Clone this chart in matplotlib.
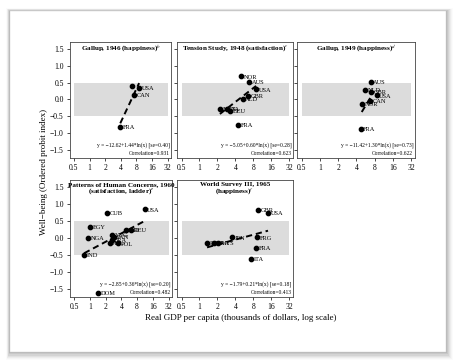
import numpy as np
import matplotlib
matplotlib.use("Agg")
import matplotlib.pyplot as plt
from matplotlib.patches import Rectangle

plt.rcParams['font.family'] = ['Liberation Serif', 'DejaVu Serif']
plt.rcParams['mathtext.fontset'] = 'stix'

# ---------------- data ----------------
p1_countries = ["", "USA", "CAN", "FRA"]
p1_gdp = [6.7, 9.0, 7.2, 3.9]
p1_wb = [0.39, 0.34, 0.14, -0.83]
p1_coef = [-12.62, 1.44]
p1_line = [3.9, 9.0]

p2_countries = ["NOR", "AUS", "USA", "GBR", "NLD", "MEX", "ITA", "DEU", "FRA"]
p2_gdp = [5.0, 6.8, 8.9, 6.6, 5.3, 2.24, 2.92, 3.23, 4.4]
p2_wb = [0.69, 0.53, 0.30, 0.11, 0.02, -0.27, -0.29, -0.35, -0.76]
p2_coef = [-5.05, 0.60]
p2_line = [2.2, 8.9]

p3_countries = ["AUS", "NLD", "GBR", "USA", "CAN", "NOR", "FRA"]
p3_gdp = [6.9, 5.6, 7.0, 8.6, 6.7, 5.0, 4.7]
p3_wb = [0.52, 0.28, 0.22, 0.12, -0.05, -0.12, -0.87]
p3_coef = [-11.42, 1.30]
p3_line = [4.9, 7.1]

p4_countries = ["USA", "CUB", "EGY", "NGA", "IND", "DOM", "ISR", "DEU",
                "YUG", "PAN", "BRA", "PHL", "POL"]
p4_gdp = [11.2, 2.12, 1.03, 0.92, 0.78, 1.45, 5.0, 6.2,
          2.67, 2.9, 2.6, 2.4, 3.5]
p4_wb = [0.85, 0.74, 0.33, 0.0, -0.49, -1.64, 0.24, 0.24,
         0.09, 0.03, -0.05, -0.14, -0.16]
p4_coef = [-2.85, 0.36]
p4_line = [0.78, 11.2]

p5_countries = ["GBR", "USA", "FRG", "FRA", "ITA", "JPN", "PHL", "BRA", "MYS"]
p5_gdp = [9.6, 14.1, 9.3, 9.0, 7.3, 3.56, 1.34, 1.76, 2.05]
p5_wb = [0.83, 0.75, 0.02, -0.29, -0.63, 0.02, -0.14, -0.14, -0.14]
p5_coef = [-1.79, 0.21]
p5_line = [1.34, 14.1]

titles = ["Gallup, 1946 (happiness)$^{b}$",
          "Tension Study, 1948 (satisfaction)$^{c}$",
          "Gallup, 1949 (happiness)$^{d}$",
          "Patterns of Human Concerns, 1960\n(satisfaction, ladder)$^{e}$",
          "World Survey III, 1965\n(happiness)$^{f}$"]
eq_texts = ["y = \u221212.62+1.44*ln(x) [se=0.40]",
            "y = \u22125.05+0.60*ln(x) [se=0.28]",
            "y = \u221211.42+1.30*ln(x) [se=0.73]",
            "y = \u22122.85+0.36*ln(x) [se=0.20]",
            "y = \u22121.79+0.21*ln(x) [se=0.18]"]
corr_texts = ["Correlation=0.931", "Correlation=0.623", "Correlation=0.622",
              "Correlation=0.482", "Correlation=0.413"]
xticks = [0.5, 1, 2, 4, 8, 16, 32]
xticklabels = ["0.5", "1", "2", "4", "8", "16", "32"]
yticks = [-1.5, -1.0, -0.5, 0.0, 0.5, 1.0, 1.5]
yticklabels = ["\u22121.5", "\u22121.0", "\u22120.5", "0.0", "0.5", "1.0", "1.5"]

W, H = 456, 362
fig = plt.figure(figsize=(W / 100, H / 100), dpi=100)
fig.patch.set_facecolor("white")

# page card with soft shadow (offset to bottom-right)
for i, a in enumerate(np.linspace(0.07, 0.015, 7)):
    d = i + 1
    fig.patches.append(Rectangle(((10 - d * 0.5) / W, (H - 352 - d * 1.2) / H),
                                 (436 + d * 1.5) / W, (341 + d * 1.6) / H,
                                 transform=fig.transFigure, facecolor="black",
                                 alpha=a, edgecolor="none", zorder=0))
fig.patches.append(Rectangle((10 / W, (H - 352) / H), 436 / W, 341 / H,
                             transform=fig.transFigure, facecolor="white",
                             edgecolor="#cccccc", linewidth=0.3, zorder=1))

def pos(x0, x1, y0, y1):
    return [x0 / W, 1 - y1 / H, (x1 - x0) / W, (y1 - y0) / H]

panels = [
    (pos(70, 171, 42, 158), p1_countries, p1_gdp, p1_wb, p1_coef, p1_line, True),
    (pos(177, 293, 42, 158), p2_countries, p2_gdp, p2_wb, p2_coef, p2_line, False),
    (pos(297, 415, 42, 158), p3_countries, p3_gdp, p3_wb, p3_coef, p3_line, False),
    (pos(70, 172, 180, 297), p4_countries, p4_gdp, p4_wb, p4_coef, p4_line, True),
    (pos(177, 293, 180, 297), p5_countries, p5_gdp, p5_wb, p5_coef, p5_line, False),
]

for k, (rect, names, gx, wy, coef, lr, ylab) in enumerate(panels):
    ax = fig.add_axes(rect)
    ax.set_zorder(2)
    ax.set_xscale("log", base=2)
    ax.set_xlim(0.42, 37)
    ax.set_ylim(-1.75, 1.72)
    ax.fill_between([0.5, 32], -0.5, 0.5, color="#dcdcdc", lw=0, zorder=0)
    xs = np.array(lr)
    ax.plot(xs, coef[0] + coef[1] * np.log(xs * 1000), color="black",
            lw=1.4, dashes=(3.2, 2.0), zorder=3)
    ax.plot(gx, wy, "o", color="black", ms=3.1, zorder=4)
    for n, x, y in zip(names, gx, wy):
        if n:
            ax.annotate(n, (x, y), xytext=(1.8, -0.5), textcoords="offset points",
                        fontsize=4.6, va="center", ha="left", zorder=5)
    ax.set_xticks(xticks)
    ax.set_xticklabels(xticklabels)
    ax.minorticks_off()
    ax.set_yticks(yticks)
    if ylab:
        ax.set_yticklabels(yticklabels)
    else:
        ax.set_yticklabels([])
    ax.tick_params(labelsize=5.5, length=2.5, width=0.5, pad=2, direction="out")
    for s in ax.spines.values():
        s.set_linewidth(0.6)
        s.set_color("#444444")
    ax.text(0.5, 0.985, titles[k], transform=ax.transAxes, ha="center",
            va="top", fontsize=5.1, fontweight="bold", linespacing=1.0)
    ax.text(0.985, 0.085, eq_texts[k], transform=ax.transAxes, ha="right",
            va="bottom", fontsize=4.0)
    ax.text(0.985, 0.015, corr_texts[k], transform=ax.transAxes, ha="right",
            va="bottom", fontsize=4.0)

fig.text(44 / W, 1 - 172 / H, "Well\u2212being (Ordered probit index)",
         rotation=90, ha="center", va="center", fontsize=6.5)
fig.text(241 / W, 1 - 318 / H,
         "Real GDP per capita (thousands of dollars, log scale)",
         ha="center", va="center", fontsize=6.5)

fig.savefig("out.png", dpi=100)
